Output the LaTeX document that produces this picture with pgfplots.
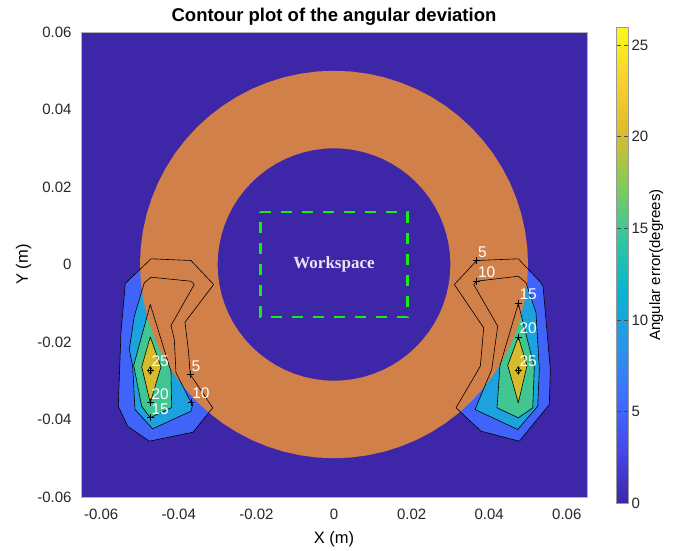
\documentclass[border=0pt]{standalone}
\usepackage{fontspec}
\setmainfont{Liberation Sans}
\newfontfamily\wsfont{Liberation Serif}
\usepackage{pgfplots}
\pgfplotsset{compat=1.18}
\definecolor{bgblue}{RGB}{62,38,168}
\definecolor{cA}{RGB}{64,100,250}
\definecolor{cB}{RGB}{27,162,223}
\definecolor{cC}{RGB}{64,198,146}
\definecolor{cD}{RGB}{214,188,44}
\definecolor{cE}{RGB}{250,236,31}
\definecolor{ring}{RGB}{209,128,73}
\definecolor{wsgreen}{RGB}{25,235,25}
\definecolor{wstext}{RGB}{232,228,246}
\pgfplotsset{colormap={parula}{rgb255=(62,38,168) rgb255=(71,71,235) rgb255=(62,111,255) rgb255=(39,150,235) rgb255=(8,181,208) rgb255=(49,198,159) rgb255=(129,204,89) rgb255=(220,189,41) rgb255=(252,207,48) rgb255=(249,251,21)}}
\newcommand{\tickfont}{\fontsize{15bp}{18bp}\selectfont}
\newcommand{\labfont}{\fontsize{16.5bp}{19bp}\selectfont}
\begin{document}
\begin{tikzpicture}
\useasboundingbox (0,0) rectangle (682bp,551bp);
\begin{axis}[
  at={(81bp,54bp)}, anchor=south west,
  scale only axis, width=506bp, height=465bp,
  xmin=-0.0652, xmax=0.0652, ymin=-0.06, ymax=0.06,
  axis background/.style={fill=bgblue},
  xtick={-0.06,-0.04,-0.02,0,0.02,0.04,0.06},
  ytick={-0.06,-0.04,-0.02,0,0.02,0.04,0.06},
  scaled ticks=false,
  /pgf/number format/fixed, /pgf/number format/precision=2,
  /pgf/number format/assume math mode=true,
  tick label style={font=\tickfont, text=black!85},
  xticklabel style={yshift=-9bp},
  yticklabel style={xshift=-6bp},
  major tick length=0pt,
  axis line style={draw=black!30, line width=0.4bp},
  title={Contour plot of the angular deviation},
  title style={font=\fontsize{18.5bp}{21bp}\selectfont\bfseries, at={(0.5,1)}, anchor=base, yshift=5bp},
  xlabel={X (m)},
  xlabel style={font=\labfont, at={(0.5,0)}, anchor=base, yshift=-46bp},
  ylabel={Y (m)},
  ylabel style={font=\labfont, at={([xshift=-53bp]axis description cs:0,0.5)}, anchor=base},
  colorbar, colormap name=parula, point meta min=0, point meta max=26,
  colorbar style={
    at={(parent axis.north east)}, anchor=north west, xshift=21bp, yshift=5.3bp,
    scale only axis, width=11.6bp, height=476.6bp,
    ytick={0,5,10,15,20,25},
    tick align=inside, major tick length=4bp,
    tick style={draw=black!70, line width=0.5bp},
    yticklabel style={font=\tickfont, text=black!85, /pgf/number format/assume math mode=true},
    ylabel={Angular error(degrees)},
    ylabel style={font=\tickfont},
    ylabel shift=-6bp,
    axis line style={draw=black!40, line width=0.4bp},
  },
]
% ---- filled contour regions (level 5, 10, 15, 20, 25)
\addplot[fill=cA, draw=none] coordinates {(-0.05379,-0.00490) (-0.04716,0.00147) (-0.03686,0.00103) (-0.03101,-0.00516) (-0.03840,-0.01489) (-0.03755,-0.02194) (-0.03704,-0.02839) (-0.03126,-0.03698) (-0.03634,-0.04328) (-0.04760,-0.04560) (-0.05317,-0.04173) (-0.05559,-0.03657) (-0.05490,-0.01755)} -- cycle;
\addplot[fill=cA, draw=none] coordinates {(0.03678,0.00103) (0.04750,0.00147) (0.05335,-0.00472) (0.05387,-0.00568) (0.05575,-0.02710) (0.05549,-0.03613) (0.04776,-0.04560) (0.03789,-0.04302) (0.03144,-0.03698) (0.03771,-0.02625) (0.03858,-0.01634) (0.03101,-0.00516)} -- cycle;
\addplot[fill=cB, draw=none] coordinates {(-0.04716,-0.00328) (-0.03686,-0.00431) (-0.03601,-0.00516) (-0.04201,-0.01574) (-0.04116,-0.01935) (-0.04072,-0.02795) (-0.03686,-0.03554) (-0.03642,-0.03613) (-0.03686,-0.03786) (-0.04673,-0.04240) (-0.05129,-0.03742) (-0.05188,-0.02625) (-0.05276,-0.02194) (-0.05147,-0.01334) (-0.04889,-0.00472)} -- cycle;
\addplot[fill=cB, draw=none] coordinates {(0.03678,-0.00431) (0.04750,-0.00302) (0.04948,-0.00472) (0.05206,-0.01246) (0.05291,-0.02710) (0.05250,-0.03657) (0.04735,-0.04258) (0.03634,-0.03742) (0.04064,-0.02710) (0.04219,-0.01592) (0.03601,-0.00516)} -- cycle;
\addplot[fill=cC, draw=none] coordinates {(-0.04735,-0.01032) (-0.04201,-0.02761) (-0.04183,-0.03690) (-0.04735,-0.03956) (-0.04956,-0.03657) (-0.05162,-0.02606)} -- cycle;
\addplot[fill=cC, draw=none] coordinates {(0.04750,-0.01006) (0.05162,-0.02658) (0.05121,-0.03698) (0.04750,-0.03956) (0.04201,-0.03698) (0.04278,-0.02606)} -- cycle;
\addplot[fill=cD, draw=none] coordinates {(-0.04735,-0.01866) (-0.04459,-0.02640) (-0.04735,-0.03569) (-0.04956,-0.02640)} -- cycle;
\addplot[fill=cD, draw=none] coordinates {(0.04750,-0.01866) (0.04974,-0.02606) (0.04750,-0.03569) (0.04477,-0.02606)} -- cycle;
\addplot[fill=cE, draw=none] coordinates {(-0.04735,-0.02635) (-0.04675,-0.02735) (-0.04735,-0.02835) (-0.04795,-0.02735)} -- cycle;
\addplot[fill=cE, draw=none] coordinates {(0.04750,-0.02635) (0.04810,-0.02735) (0.04750,-0.02835) (0.04690,-0.02735)} -- cycle;
% ---- orange ring (r = 0.03 .. 0.05)
\addplot[fill=ring, draw=none] coordinates {
(0.05,0) (0.04981,0.00436) (0.04924,0.00868) (0.04830,0.01294) (0.04698,0.01710) (0.04532,0.02113) (0.04330,0.025) (0.04096,0.02868) (0.03830,0.03214) (0.03536,0.03536) (0.03214,0.03830) (0.02868,0.04096) (0.025,0.04330) (0.02113,0.04532) (0.01710,0.04698) (0.01294,0.04830) (0.00868,0.04924) (0.00436,0.04981) (0,0.05)
(-0.00436,0.04981) (-0.00868,0.04924) (-0.01294,0.04830) (-0.01710,0.04698) (-0.02113,0.04532) (-0.025,0.04330) (-0.02868,0.04096) (-0.03214,0.03830) (-0.03536,0.03536) (-0.03830,0.03214) (-0.04096,0.02868) (-0.04330,0.025) (-0.04532,0.02113) (-0.04698,0.01710) (-0.04830,0.01294) (-0.04924,0.00868) (-0.04981,0.00436) (-0.05,0)
(-0.04981,-0.00436) (-0.04924,-0.00868) (-0.04830,-0.01294) (-0.04698,-0.01710) (-0.04532,-0.02113) (-0.04330,-0.025) (-0.04096,-0.02868) (-0.03830,-0.03214) (-0.03536,-0.03536) (-0.03214,-0.03830) (-0.02868,-0.04096) (-0.025,-0.04330) (-0.02113,-0.04532) (-0.01710,-0.04698) (-0.01294,-0.04830) (-0.00868,-0.04924) (-0.00436,-0.04981) (0,-0.05)
(0.00436,-0.04981) (0.00868,-0.04924) (0.01294,-0.04830) (0.01710,-0.04698) (0.02113,-0.04532) (0.025,-0.04330) (0.02868,-0.04096) (0.03214,-0.03830) (0.03536,-0.03536) (0.03830,-0.03214) (0.04096,-0.02868) (0.04330,-0.025) (0.04532,-0.02113) (0.04698,-0.01710) (0.04830,-0.01294) (0.04924,-0.00868) (0.04981,-0.00436) (0.05,0)
(0.03,0) (0.02989,-0.00261) (0.02954,-0.00521) (0.02898,-0.00776) (0.02819,-0.01026) (0.02719,-0.01268) (0.02598,-0.015) (0.02457,-0.01721) (0.02298,-0.01928) (0.02121,-0.02121) (0.01928,-0.02298) (0.01721,-0.02457) (0.015,-0.02598) (0.01268,-0.02719) (0.01026,-0.02819) (0.00776,-0.02898) (0.00521,-0.02954) (0.00261,-0.02989) (0,-0.03)
(-0.00261,-0.02989) (-0.00521,-0.02954) (-0.00776,-0.02898) (-0.01026,-0.02819) (-0.01268,-0.02719) (-0.015,-0.02598) (-0.01721,-0.02457) (-0.01928,-0.02298) (-0.02121,-0.02121) (-0.02298,-0.01928) (-0.02457,-0.01721) (-0.02598,-0.015) (-0.02719,-0.01268) (-0.02819,-0.01026) (-0.02898,-0.00776) (-0.02954,-0.00521) (-0.02989,-0.00261) (-0.03,0)
(-0.02989,0.00261) (-0.02954,0.00521) (-0.02898,0.00776) (-0.02819,0.01026) (-0.02719,0.01268) (-0.02598,0.015) (-0.02457,0.01721) (-0.02298,0.01928) (-0.02121,0.02121) (-0.01928,0.02298) (-0.01721,0.02457) (-0.015,0.02598) (-0.01268,0.02719) (-0.01026,0.02819) (-0.00776,0.02898) (-0.00521,0.02954) (-0.00261,0.02989) (0,0.03)
(0.00261,0.02989) (0.00521,0.02954) (0.00776,0.02898) (0.01026,0.02819) (0.01268,0.02719) (0.015,0.02598) (0.01721,0.02457) (0.01928,0.02298) (0.02121,0.02121) (0.02298,0.01928) (0.02457,0.01721) (0.02598,0.015) (0.02719,0.01268) (0.02819,0.01026) (0.02898,0.00776) (0.02954,0.00521) (0.02989,0.00261) (0.03,0)
} -- cycle;
% ---- contour lines
\pgfplotsset{cl/.style={draw=black, line width=0.6bp, line join=round}}
\addplot[cl] coordinates {(-0.05379,-0.00490) (-0.04716,0.00147) (-0.03686,0.00103) (-0.03101,-0.00516) (-0.03840,-0.01489) (-0.03755,-0.02194) (-0.03704,-0.02839) (-0.03126,-0.03698) (-0.03634,-0.04328) (-0.04760,-0.04560) (-0.05317,-0.04173) (-0.05559,-0.03657) (-0.05490,-0.01755)} -- cycle;
\addplot[cl] coordinates {(0.03678,0.00103) (0.04750,0.00147) (0.05335,-0.00472) (0.05387,-0.00568) (0.05575,-0.02710) (0.05549,-0.03613) (0.04776,-0.04560) (0.03789,-0.04302) (0.03144,-0.03698) (0.03771,-0.02625) (0.03858,-0.01634) (0.03101,-0.00516)} -- cycle;
\addplot[cl] coordinates {(-0.04716,-0.00328) (-0.03686,-0.00431) (-0.03601,-0.00516) (-0.04201,-0.01574) (-0.04116,-0.01935) (-0.04072,-0.02795) (-0.03686,-0.03554) (-0.03642,-0.03613) (-0.03686,-0.03786) (-0.04673,-0.04240) (-0.05129,-0.03742) (-0.05188,-0.02625) (-0.05276,-0.02194) (-0.05147,-0.01334) (-0.04889,-0.00472)} -- cycle;
\addplot[cl] coordinates {(0.03678,-0.00431) (0.04750,-0.00302) (0.04948,-0.00472) (0.05206,-0.01246) (0.05291,-0.02710) (0.05250,-0.03657) (0.04735,-0.04258) (0.03634,-0.03742) (0.04064,-0.02710) (0.04219,-0.01592) (0.03601,-0.00516)} -- cycle;
\addplot[cl] coordinates {(-0.04735,-0.01032) (-0.04201,-0.02761) (-0.04183,-0.03690) (-0.04735,-0.03956) (-0.04956,-0.03657) (-0.05162,-0.02606)} -- cycle;
\addplot[cl] coordinates {(0.04750,-0.01006) (0.05162,-0.02658) (0.05121,-0.03698) (0.04750,-0.03956) (0.04201,-0.03698) (0.04278,-0.02606)} -- cycle;
\addplot[cl] coordinates {(-0.04735,-0.01866) (-0.04459,-0.02640) (-0.04735,-0.03569) (-0.04956,-0.02640)} -- cycle;
\addplot[cl] coordinates {(0.04750,-0.01866) (0.04974,-0.02606) (0.04750,-0.03569) (0.04477,-0.02606)} -- cycle;
\addplot[cl] coordinates {(-0.04735,-0.02635) (-0.04675,-0.02735) (-0.04735,-0.02835) (-0.04795,-0.02735)} -- cycle;
\addplot[cl] coordinates {(0.04750,-0.02635) (0.04810,-0.02735) (0.04750,-0.02835) (0.04690,-0.02735)} -- cycle;
% ---- contour labels
\addplot[only marks, mark=+, mark size=3.3bp, mark options={draw=black, line width=0.6bp},
  point meta=explicit symbolic, nodes near coords,
  nodes near coords style={anchor=base west, font=\fontsize{15.5bp}{18bp}\selectfont, text=white, inner sep=0pt, xshift=1bp, yshift=3.5bp}]
  coordinates {(-0.03704,-0.02839) [5] (-0.03686,-0.03554) [10] (-0.04735,-0.03956) [15] (-0.04735,-0.03569) [20] (-0.04735,-0.02735) [25]
  (0.03678,0.00103) [5] (0.03678,-0.00431) [10] (0.04750,-0.01006) [15] (0.04750,-0.01866) [20] (0.04750,-0.02735) [25]};
% ---- workspace
\addplot[draw=wsgreen, line width=2.6bp, dash pattern=on 11bp off 10bp] coordinates {(-0.019,0.0135) (0.019,0.0135) (0.019,-0.0135) (-0.019,-0.0135) (-0.019,0.0135)};
\node[font=\wsfont\bfseries\fontsize{17bp}{20bp}\selectfont, text=wstext] at (axis cs:0,0) {Workspace};
\end{axis}
\end{tikzpicture}
\end{document}
